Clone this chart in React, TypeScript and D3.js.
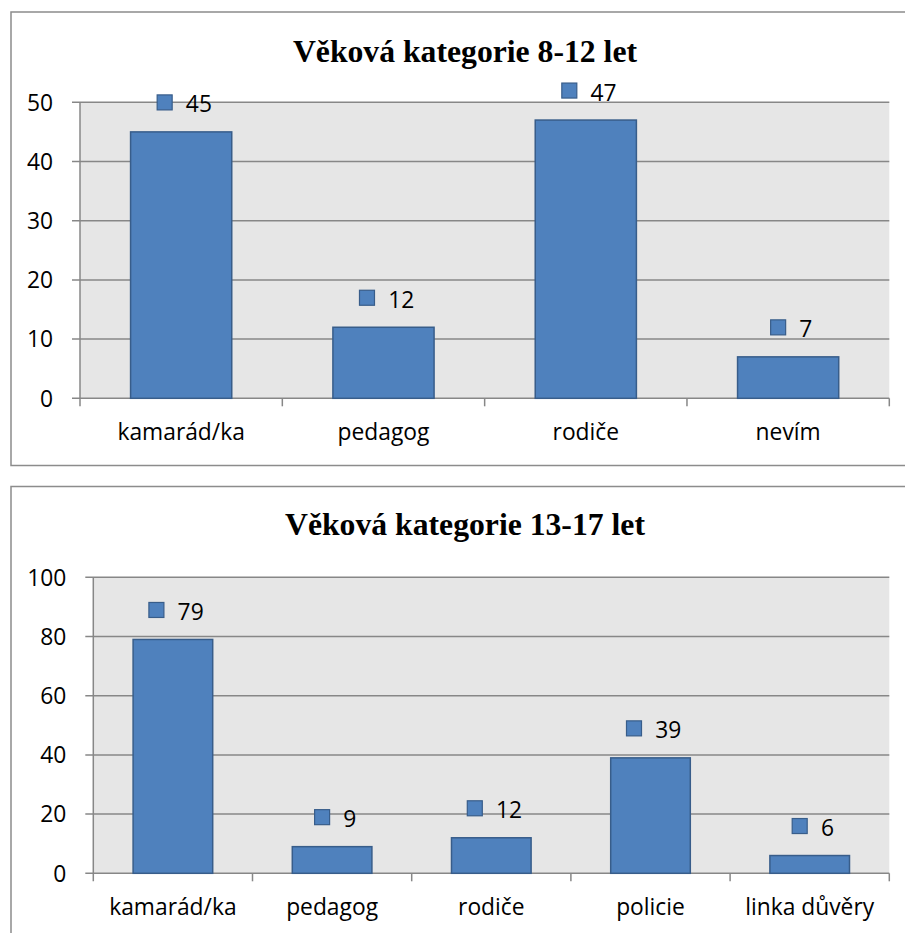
import React from "react";
import * as d3 from "d3";

const categories1 = ["kamarád/ka", "pedagog", "rodiče", "nevím"];
const values1 = [45, 12, 47, 7];
const ticks1 = [0, 10, 20, 30, 40, 50];
const title1 = "Věková kategorie 8-12 let";

const categories2 = ["kamarád/ka", "pedagog", "rodiče", "policie", "linka důvěry"];
const values2 = [79, 9, 12, 39, 6];
const ticks2 = [0, 20, 40, 60, 80, 100];
const title2 = "Věková kategorie 13-17 let";

const FONT = "Open Sans";
const FS = 22.8;

function Chart({ cats, vals, ticks, title, frameTop, frameBottom, plotLeft, plotTop, plotBottom, titleY }) {
  const plotRight = 889.3;
  const x = d3.scaleBand().domain(cats).range([plotLeft, plotRight]).paddingInner(0).paddingOuter(0);
  const y = d3.scaleLinear().domain([0, ticks[ticks.length - 1]]).range([plotBottom, plotTop]);
  const bw = x.bandwidth() / 2;
  return (
    <g>
      <rect x={11} y={frameTop} width={905} height={frameBottom - frameTop} fill="#fff" stroke="#8c8c8c" strokeWidth={1.5} />
      <text x={465} y={titleY} textAnchor="middle" fontFamily="Liberation Serif" fontWeight="bold" fontSize={31.7} fill="#000">{title}</text>
      <rect x={plotLeft} y={plotTop} width={plotRight - plotLeft} height={plotBottom - plotTop} fill="#e6e6e6" />
      {ticks.map((t) => (
        <g key={t}>
          <line x1={plotLeft - 8} x2={plotRight} y1={y(t)} y2={y(t)} stroke="#878787" strokeWidth={1.5} />
          <text x={plotLeft - 27} y={y(t)} dy="0.36em" textAnchor="end" fontFamily={FONT} fontSize={FS} fill="#000">{t}</text>
        </g>
      ))}
      <line x1={plotLeft} x2={plotLeft} y1={plotTop} y2={plotBottom + 8} stroke="#878787" strokeWidth={1.5} />
      {cats.map((c, i) => (
        <line key={"t" + i} x1={(x(c) as number) + x.bandwidth()} x2={(x(c) as number) + x.bandwidth()} y1={plotBottom} y2={plotBottom + 8} stroke="#878787" strokeWidth={1.5} />
      ))}
      {cats.map((c, i) => {
        const cx = (x(c) as number) + x.bandwidth() / 2;
        const v = vals[i];
        const tw = String(v).length * 13;
        const left = cx - (16 + 13 + tw) / 2 + 3.5;
        const base = y(v) - 19.5;
        return (
          <g key={c}>
            <rect x={cx - bw / 2} y={y(v)} width={bw} height={plotBottom - y(v)} fill="#4f81bd" stroke="#385d8a" strokeWidth={1.5} />
            <rect x={left} y={base - 17.5} width={15} height={15} fill="#4f81bd" stroke="#385d8a" strokeWidth={1.2} />
            <text x={left + 28.7} y={base} fontFamily={FONT} fontSize={FS} fill="#000">{v}</text>
            <text x={cx} y={plotBottom + 42} textAnchor="middle" fontFamily={FONT} fontSize={FS} fill="#000">{c}</text>
          </g>
        );
      })}
    </g>
  );
}

export default function App() {
  return (
    <svg width={905} height={933} style={{ position: "fixed", left: 0, top: 0, background: "#fff" }}>
      <rect x={0} y={0} width={905} height={933} fill="#fff" />
      <Chart cats={categories1} vals={values1} ticks={ticks1} title={title1} frameTop={12} frameBottom={465.5} plotLeft={80} plotTop={102.3} plotBottom={398.3} titleY={61.7} />
      <Chart cats={categories2} vals={values2} ticks={ticks2} title={title2} frameTop={486.5} frameBottom={1100} plotLeft={93.3} plotTop={577.3} plotBottom={873.3} titleY={535} />
    </svg>
  );
}
